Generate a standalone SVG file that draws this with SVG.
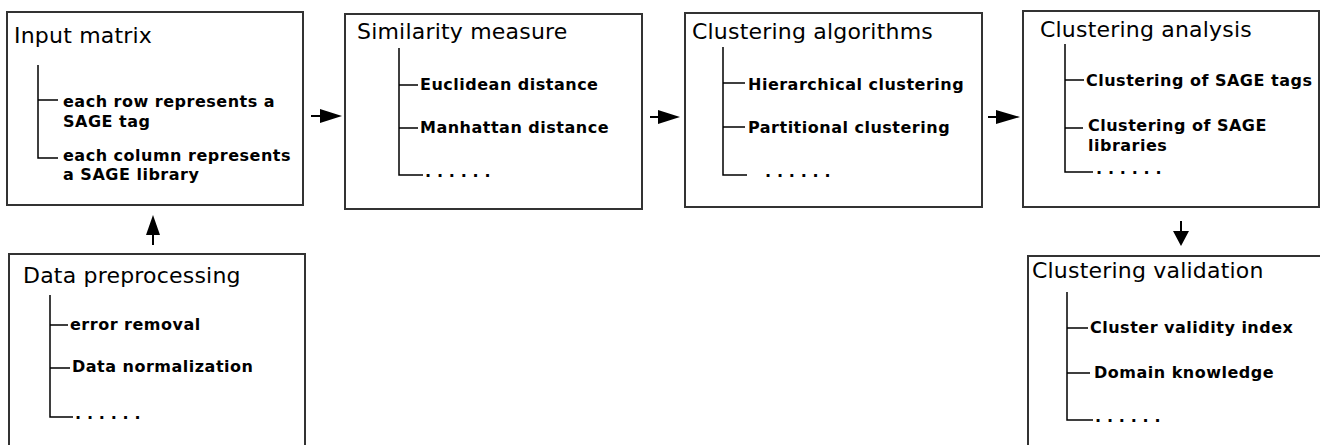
<svg xmlns="http://www.w3.org/2000/svg" width="1320" height="445" viewBox="0 0 1320 445">
<style>
.box{fill:#fff;stroke:#333;stroke-width:2}
.tree{fill:none;stroke:#000;stroke-width:1.5}
.title{font-family:"DejaVu Sans",Verdana,sans-serif;font-size:22px;letter-spacing:0.2px;fill:#000}
.item{font-family:"DejaVu Sans",Verdana,sans-serif;font-weight:bold;font-size:16px;letter-spacing:0.5px;fill:#000}
.dots{font-family:"DejaVu Sans",Verdana,sans-serif;font-weight:bold;font-size:16px;fill:#000;letter-spacing:5.8px}
.conn{stroke:#000;stroke-width:2;fill:none}
.head{fill:#000}
</style>
<rect width="1320" height="445" fill="#fff"/>
<g id="input-matrix">
<rect class="box" x="7" y="12" width="296" height="193"/>
<text class="title" x="14" y="43">Input matrix</text>
<path class="tree" d="M38 65V158H58M38 100H58"/>
<text class="item" x="63" y="107">each row represents a</text>
<text class="item" x="63" y="127">SAGE tag</text>
<text class="item" x="63" y="161">each column represents</text>
<text class="item" x="63" y="180">a SAGE library</text>
</g>
<g id="similarity-measure">
<rect class="box" x="345" y="14" width="297" height="195"/>
<text class="title" x="357" y="39">Similarity measure</text>
<path class="tree" d="M399 48V175H423M399 85H418M399 128H418"/>
<text class="item" x="420" y="90">Euclidean distance</text>
<text class="item" x="420" y="133">Manhattan distance</text>
<text class="dots" x="425" y="177">......</text>
</g>
<g id="clustering-algorithms">
<rect class="box" x="685" y="13" width="297" height="194"/>
<text class="title" x="692" y="39">Clustering algorithms</text>
<path class="tree" d="M723 47V175H747M723 83H745M723 127H745"/>
<text class="item" x="748" y="90">Hierarchical clustering</text>
<text class="item" x="748" y="133">Partitional clustering</text>
<text class="dots" x="765" y="177">......</text>
</g>
<g id="clustering-analysis">
<rect class="box" x="1023" y="11" width="296" height="196"/>
<text class="title" x="1040" y="37">Clustering analysis</text>
<path class="tree" d="M1065 44V172H1093M1065 80H1084M1065 128H1083"/>
<text class="item" x="1086" y="86">Clustering of SAGE tags</text>
<text class="item" x="1088" y="131">Clustering of SAGE</text>
<text class="item" x="1088" y="151">libraries</text>
<text class="dots" x="1096" y="174">......</text>
</g>
<g id="clustering-validation">
<rect class="box" x="1028" y="256" width="310" height="210"/>
<text class="title" x="1032" y="278">Clustering validation</text>
<path class="tree" d="M1067 292V420H1093M1067 328H1088M1067 373H1090"/>
<text class="item" x="1090" y="333">Cluster validity index</text>
<text class="item" x="1094" y="378">Domain knowledge</text>
<text class="dots" x="1095" y="422">......</text>
</g>
<g id="data-preprocessing">
<rect class="box" x="9" y="254" width="296" height="210"/>
<text class="title" x="23" y="283">Data preprocessing</text>
<path class="tree" d="M50 295V417H73M50 325H68M50 368H70"/>
<text class="item" x="70" y="330">error removal</text>
<text class="item" x="72" y="372">Data normalization</text>
<text class="dots" x="75" y="419">......</text>
</g>
<g id="connectors">
<line class="conn" x1="311" y1="116" x2="322" y2="116"/>
<polygon class="head" points="320,109 342,116 320,123"/>
<line class="conn" x1="650" y1="117" x2="660" y2="117"/>
<polygon class="head" points="658,110 680,117 658,124"/>
<line class="conn" x1="988" y1="117" x2="998" y2="117"/>
<polygon class="head" points="996,110 1020,117 996,124"/>
<line class="conn" x1="153" y1="245" x2="153" y2="233"/>
<polygon class="head" points="146,235 153,215 160,235"/>
<line class="conn" x1="1181" y1="221" x2="1181" y2="233"/>
<polygon class="head" points="1173,231 1181,246 1189,231"/>
</g>
</svg>
